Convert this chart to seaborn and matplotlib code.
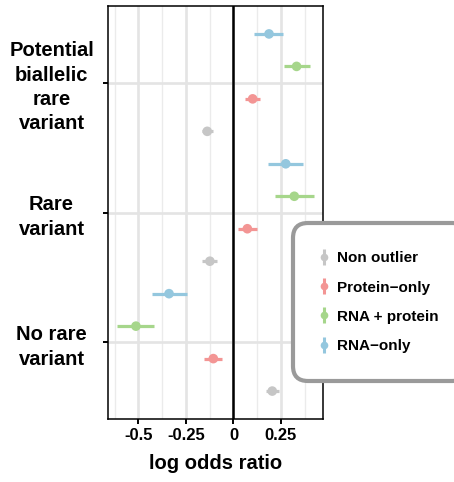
import numpy as np
import pandas as pd
import matplotlib
matplotlib.use("Agg")
import matplotlib.pyplot as plt
from matplotlib.lines import Line2D
from matplotlib.ticker import MultipleLocator
import seaborn as sns

# data (bottom category first)
categories = ["No rare variant", "Rare variant", "Potential biallelic rare variant"]
cat_labels = ["No rare\nvariant", "Rare\nvariant", "Potential\nbiallelic\nrare\nvariant"]
groups = ["Non outlier", "Protein\u2212only", "RNA + protein", "RNA\u2212only"]
colors = ["#C6C6C6", "#F39594", "#A6D68B", "#94C7DE"]

est = {
    "Non outlier":     [0.204, -0.124, -0.138],
    "Protein\u2212only":  [-0.106, 0.073, 0.101],
    "RNA + protein":   [-0.513, 0.320, 0.332],
    "RNA\u2212only":      [-0.339, 0.275, 0.187],
}
lo = {
    "Non outlier":     [0.171, -0.164, -0.165],
    "Protein\u2212only":  [-0.154, 0.025, 0.062],
    "RNA + protein":   [-0.612, 0.220, 0.268],
    "RNA\u2212only":      [-0.430, 0.183, 0.108],
}
hi = {
    "Non outlier":     [0.241, -0.085, -0.110],
    "Protein\u2212only":  [-0.062, 0.122, 0.139],
    "RNA + protein":   [-0.417, 0.422, 0.400],
    "RNA\u2212only":      [-0.246, 0.364, 0.262],
}
xtick_vals = [-0.5, -0.25, 0, 0.25]
xtick_labels = ["-0.5", "-0.25", "0", "0.25"]

# long table with dodged y positions
rows = []
for gi, g in enumerate(groups):
    for ci, c in enumerate(categories):
        rows.append({"group": g, "category": c,
                     "y": ci + (gi - 1.5) * 0.25,
                     "est": est[g][ci], "lo": lo[g][ci], "hi": hi[g][ci]})
df = pd.DataFrame(rows)

sns.set_theme(style="white")
plt.rcParams["font.family"] = ["Liberation Sans", "DejaVu Sans"]
plt.rcParams["font.weight"] = "bold"
for k in ["text.color", "axes.labelcolor", "xtick.color", "ytick.color"]:
    plt.rcParams[k] = "black"

fig = plt.figure(figsize=(4.54, 4.82), dpi=100)
ax = fig.add_axes([108 / 454, 63 / 482, 215 / 454, 413 / 482])

# grid
ax.xaxis.set_minor_locator(MultipleLocator(0.125))
ax.grid(which="major", axis="both", color="#E4E4E4", lw=1.9, zorder=0)
ax.grid(which="minor", axis="x", color="#EBEBEB", lw=1.0, zorder=0)
ax.set_axisbelow(True)

ax.axvline(0, color="black", lw=1.8, zorder=1)

pal = dict(zip(groups, colors))
for g in groups:
    sub = df[df["group"] == g]
    ax.hlines(sub["y"], sub["lo"], sub["hi"], color=pal[g], lw=2.3, zorder=2)
sns.scatterplot(data=df, x="est", y="y", hue="group", palette=pal, s=48,
                edgecolor="none", legend=False, ax=ax, zorder=3)

ax.set_xlim(-0.66, 0.471)
ax.set_ylim(-0.59, 2.59)
ax.set_xticks(xtick_vals)
ax.set_xticklabels(xtick_labels, fontsize=12, fontweight="bold")
ax.set_yticks(range(len(categories)))
ax.set_yticklabels(cat_labels, fontsize=14.5, fontweight="bold", ha="center",
                   multialignment="center", linespacing=1.35)
ax.tick_params(axis="y", which="major", length=3.6, width=1.4, color="black",
               pad=37, left=True)
ax.tick_params(axis="x", which="major", length=3.6, width=1.4, color="black",
               pad=3, bottom=True)
ax.tick_params(axis="x", which="minor", length=0)
ax.set_xlabel("log odds ratio", fontsize=14.5, fontweight="bold", labelpad=8)
ax.set_ylabel("")
for s in ax.spines.values():
    s.set_color("black")
    s.set_linewidth(1.1)

# legend with pointrange-like glyphs
handles = []
for g in groups:
    bar = Line2D([], [], color=pal[g], marker="|", markersize=11,
                 markeredgewidth=2.2, linestyle="none")
    dot = Line2D([], [], color=pal[g], marker="o", markersize=5.5,
                 markeredgewidth=0, linestyle="none")
    handles.append((bar, dot))
leg = fig.legend(handles, groups, loc="upper left",
                 bbox_to_anchor=(293 / 454, 1 - 223 / 482), borderaxespad=0,
                 prop={"size": 11, "weight": "bold"},
                 frameon=True, fancybox=True, borderpad=1.85,
                 labelspacing=1.0, handlelength=0.4, handletextpad=0.65)
fr = leg.get_frame()
fr.set_edgecolor("#9A9A9A")
fr.set_linewidth(3.0)
fr.set_facecolor("white")
fr.set_alpha(1)
fr.set_boxstyle("round", pad=0, rounding_size=1.0)

fig.savefig("out.png", dpi=100)
